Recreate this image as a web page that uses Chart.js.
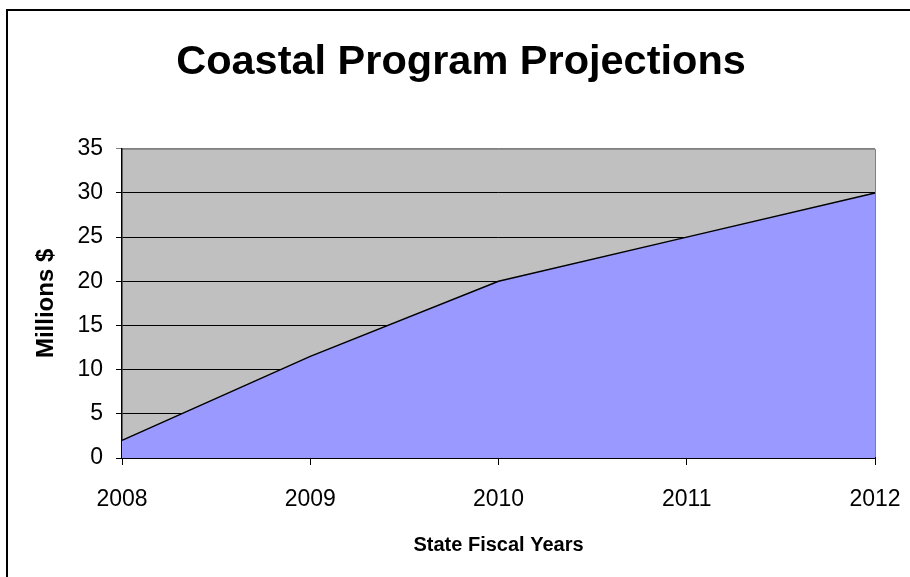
<!DOCTYPE html>
<html>
<head>
<meta charset="utf-8">
<script src="https://cdn.jsdelivr.net/npm/chart.js@4"></script>
<style>
  body { margin: 0; background: #fff; }
  #wrap { position: relative; width: 910px; height: 577px; overflow: hidden; }
  #frame {
    position: absolute; left: 6px; top: 9px; width: 940px; height: 620px;
    border-left: 2px solid #000; border-top: 2px solid #000;
  }
  #chart { position: absolute; left: 0; top: 0; }
</style>
</head>
<body>
<div id="wrap">
  <div id="frame"></div>
  <canvas id="chart" width="910" height="577"></canvas>
</div>
<script>
// Chart data
const years = ["2008", "2009", "2010", "2011", "2012"];
const millions = [2, 11.5, 20, 25, 30];

const FONT = "'Liberation Sans', Arial, sans-serif";

// Gray plot background with gray top/right edge
const plotBackground = {
  id: "plotBackground",
  beforeDraw(chart) {
    const { ctx, chartArea: a } = chart;
    ctx.save();
    ctx.fillStyle = "#c0c0c0";
    ctx.fillRect(a.left, a.top, a.right - a.left, a.bottom - a.top);
    ctx.strokeStyle = "#808080";
    ctx.lineWidth = 1;
    ctx.beginPath();
    ctx.moveTo(a.left, a.top + 0.5);
    ctx.lineTo(a.right + 0.5, a.top + 0.5);
    ctx.lineTo(a.right + 0.5, a.bottom);
    ctx.stroke();
    ctx.restore();
  },
};

const ctx = document.getElementById("chart").getContext("2d");
new Chart(ctx, {
  type: "line",
  data: {
    labels: years,
    datasets: [
      {
        data: millions,
        borderColor: "#000",
        borderWidth: 1.5,
        backgroundColor: "#9999ff",
        fill: "origin",
        pointRadius: 0,
        tension: 0,
      },
    ],
  },
  options: {
    responsive: false,
    animation: false,
    layout: { padding: { left: 47, right: 35, top: 0, bottom: 0 } },
    plugins: {
      legend: { display: false },
      tooltip: { enabled: false },
      title: {
        display: true,
        text: "Coastal Program Projections",
        color: "#000",
        font: { family: FONT, size: 41.5, weight: "bold" },
        padding: { top: 38, bottom: 61 },
      },
    },
    scales: {
      x: {
        offset: false,
        afterFit(scale) {
          scale.height = 119;
          scale.paddingLeft = 0;
          scale.paddingRight = 0;
        },
        grid: { display: true, drawOnChartArea: false, drawTicks: true, tickLength: 7, color: "#000" },
        border: { color: "#000", width: 2 },
        ticks: { color: "#000", padding: 21, font: { family: FONT, size: 23 } },
        title: {
          display: true,
          text: "State Fiscal Years",
          color: "#000",
          font: { family: FONT, size: 20, weight: "bold" },
          padding: { top: 4, bottom: 20 },
        },
      },
      y: {
        min: 0,
        max: 35,
        afterFit(scale) { scale.width = 75; },
        grid: {
          color: (c) => (c.tick && c.tick.value === 35 ? "#808080" : "#000"),
          tickLength: 6,
          lineWidth: 1,
        },
        border: { color: "#000", width: 1.5 },
        ticks: { stepSize: 5, color: "#000", padding: 13, font: { family: FONT, size: 23 } },
        title: {
          display: true,
          text: "Millions $",
          color: "#000",
          font: { family: FONT, size: 24, weight: "bold" },
          padding: { top: -15, bottom: 4 },
        },
      },
    },
  },
  plugins: [plotBackground],
});
</script>
</body>
</html>
